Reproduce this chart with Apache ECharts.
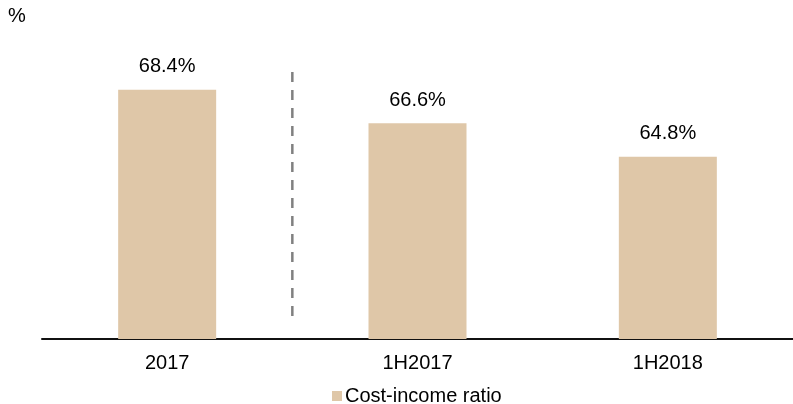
<!DOCTYPE html>
<html>
<head>
<meta charset="utf-8">
<script src="https://cdn.jsdelivr.net/npm/echarts@6/dist/echarts.min.js"></script>
<style>
  html, body { margin: 0; padding: 0; background: #fff; }
  #chart { width: 793px; height: 404px; }
</style>
</head>
<body>
<div id="chart"></div>
<script>
// Periods and cost-income ratio (%)
const categories = ['2017', '1H2017', '1H2018'];
const costIncome = [68.4, 66.6, 64.8];
const seriesName = 'Cost-income ratio';
const unitLabel = '%';

// Vertical separator between the full-year bar and the half-year bars
const dividerAt = 1;               // boundary index on the category scale
const dividerSpan = [69.35, 55.8]; // top and bottom, in % units

const FONT = '"Liberation Sans", Arial, sans-serif';
const chart = echarts.init(document.getElementById('chart'), null, { renderer: 'canvas' });

chart.setOption({
  animation: false,
  backgroundColor: '#ffffff',
  textStyle: { fontFamily: FONT, color: '#000' },
  title: {
    text: unitLabel,
    left: 3,
    top: 1,
    textStyle: { fontFamily: FONT, fontSize: 20, fontWeight: 'normal', color: '#000' }
  },
  legend: {
    data: [seriesName],
    left: 327,
    top: 381,
    icon: 'rect',
    itemWidth: 10,
    itemHeight: 10,
    itemGap: 4,
    textStyle: { fontFamily: FONT, fontSize: 20, color: '#000', padding: [0, 0, 0, -2] }
  },
  grid: { left: 42, width: 755, top: 60, bottom: 65, containLabel: false },
  xAxis: [
    {
      type: 'category',
      data: categories,
      axisLine: { show: true, lineStyle: { color: '#111', width: 2 } },
      axisTick: { show: false },
      axisLabel: { fontFamily: FONT, fontSize: 20, color: '#000', margin: 14 },
      splitLine: { show: false }
    },
    {
      type: 'value',
      min: 0,
      max: categories.length,
      show: false
    }
  ],
  yAxis: {
    type: 'value',
    min: 55,
    max: 70,
    show: false,
    splitLine: { show: false }
  },
  series: [
    {
      name: seriesName,
      type: 'bar',
      xAxisIndex: 0,
      data: costIncome,
      barWidth: 98,
      itemStyle: { color: '#DFC7A8' },
      label: {
        show: true,
        position: 'top',
        distance: 13,
        fontFamily: FONT,
        fontSize: 20,
        color: '#000',
        formatter: p => p.value.toFixed(1) + '%'
      }
    },
    {
      name: 'divider',
      type: 'line',
      xAxisIndex: 1,
      data: [[dividerAt, dividerSpan[0]], [dividerAt, dividerSpan[1]]],
      symbol: 'none',
      silent: true,
      lineStyle: { color: '#808080', width: 2.5, type: [10, 8] },
      z: 1
    }
  ]
});
</script>
</body>
</html>
